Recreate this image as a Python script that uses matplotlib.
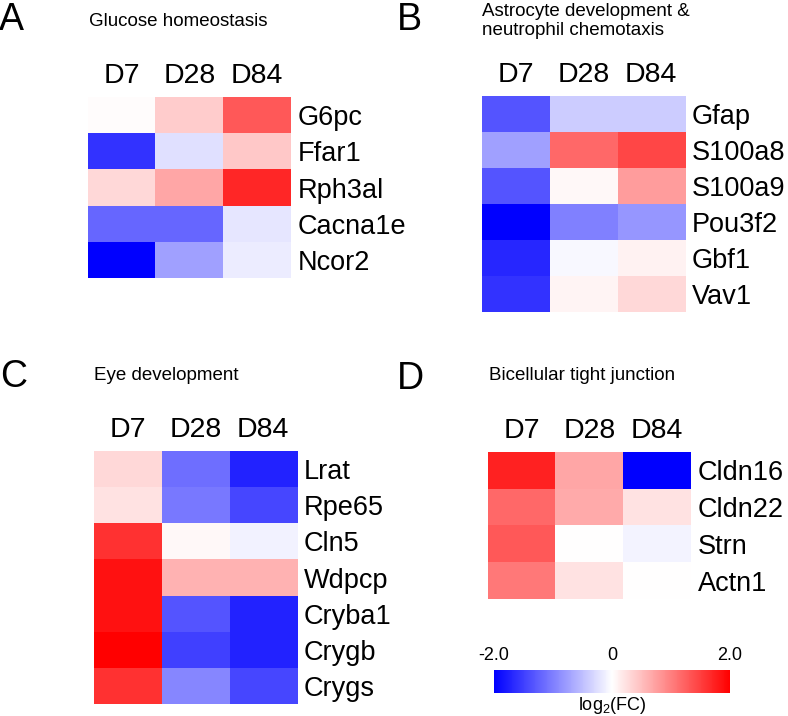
import matplotlib
matplotlib.use("Agg")
import matplotlib.pyplot as plt
import numpy as np
from matplotlib.colors import Normalize
from matplotlib.colorbar import ColorbarBase

plt.rcParams['font.family'] = ['Liberation Sans', 'DejaVu Sans']
plt.rcParams['mathtext.fontset'] = 'custom'
plt.rcParams['mathtext.rm'] = 'Liberation Sans'

days = ["D7", "D28", "D84"]

genes_a = ["G6pc", "Ffar1", "Rph3al", "Cacna1e", "Ncor2"]
fc_a = [[0.03, 0.40, 1.30],
        [-1.60, -0.24, 0.43],
        [0.30, 0.70, 1.70],
        [-1.20, -1.20, -0.20],
        [-2.00, -0.75, -0.15]]

genes_b = ["Gfap", "S100a8", "S100a9", "Pou3f2", "Gbf1", "Vav1"]
fc_b = [[-1.33, -0.40, -0.40],
        [-0.75, 1.18, 1.45],
        [-1.33, 0.06, 0.78],
        [-2.00, -1.00, -0.82],
        [-1.70, -0.05, 0.10],
        [-1.60, 0.08, 0.30]]

genes_c = ["Lrat", "Rpe65", "Cln5", "Wdpcp", "Cryba1", "Crygb", "Crygs"]
fc_c = [[0.30, -1.13, -1.72],
        [0.23, -1.05, -1.45],
        [1.60, 0.05, -0.10],
        [1.85, 0.60, 0.60],
        [1.85, -1.33, -1.72],
        [2.00, -1.50, -1.72],
        [1.60, -0.94, -1.45]]

genes_d = ["Cldn16", "Cldn22", "Strn", "Actn1"]
fc_d = [[1.72, 0.70, -2.00],
        [1.18, 0.67, 0.23],
        [1.30, 0.00, -0.08],
        [1.06, 0.23, 0.00]]

W, H = 788, 716
fig = plt.figure(figsize=(W / 100, H / 100), dpi=100)
norm = Normalize(vmin=-2, vmax=2)
cmap = plt.get_cmap("bwr")


def px_axes(x0, y0, x1, y1):
    return fig.add_axes([x0 / W, 1 - y1 / H, (x1 - x0) / W, (y1 - y0) / H])


def heatmap(box, values, genes):
    ax = px_axes(*box)
    ax.imshow(np.array(values), cmap=cmap, norm=norm, aspect="auto",
              interpolation="nearest")
    ax.set_xticks(range(len(days)))
    ax.set_xticklabels(days, fontsize=20.5)
    ax.xaxis.tick_top()
    ax.set_yticks(range(len(genes)))
    ax.set_yticklabels(genes, fontsize=19.5)
    ax.yaxis.tick_right()
    ax.tick_params(length=0, pad=5)
    ax.tick_params(axis="x", pad=6)
    for s in ax.spines.values():
        s.set_visible(False)
    return ax


heatmap((88, 97, 291, 278), fc_a, genes_a)
heatmap((482, 96, 685, 312), fc_b, genes_b)
heatmap((94, 451, 297, 704), fc_c, genes_c)
heatmap((488, 452, 691, 599), fc_d, genes_d)


# panel letters and titles
def ftxt(x, y, s, **kw):
    fig.text(x / W, 1 - y / H, s, **kw)


ftxt(-1, 20, "A", fontsize=27, va="center")
ftxt(89, 21, "Glucose homeostasis", fontsize=13.5, va="center")
ftxt(397, 20, "B", fontsize=27, va="center")
ftxt(482, 21, "Astrocyte development &\nneutrophil chemotaxis", fontsize=13.5,
     va="center", linespacing=1.2)
ftxt(0, 377, "C", fontsize=27, va="center")
ftxt(94, 375, "Eye development", fontsize=13.5, va="center")
ftxt(397, 379, "D", fontsize=27, va="center")
ftxt(489, 376, "Bicellular tight junction", fontsize=13.5, va="center")

# colorbar
cax = px_axes(494, 670, 730, 693)
cb = ColorbarBase(cax, cmap=cmap, norm=norm, orientation="horizontal")
cb.outline.set_visible(False)
cb.set_ticks([-2, 0, 2])
cb.set_ticklabels(["-2.0", "0", "2.0"])
cax.xaxis.set_ticks_position("top")
cax.tick_params(length=0, labelsize=13, pad=4)
ftxt(612, 705, r"log$_\mathregular{2}$(FC)", fontsize=13, ha="center", va="center")

fig.savefig("out.png", dpi=100, facecolor="white")
